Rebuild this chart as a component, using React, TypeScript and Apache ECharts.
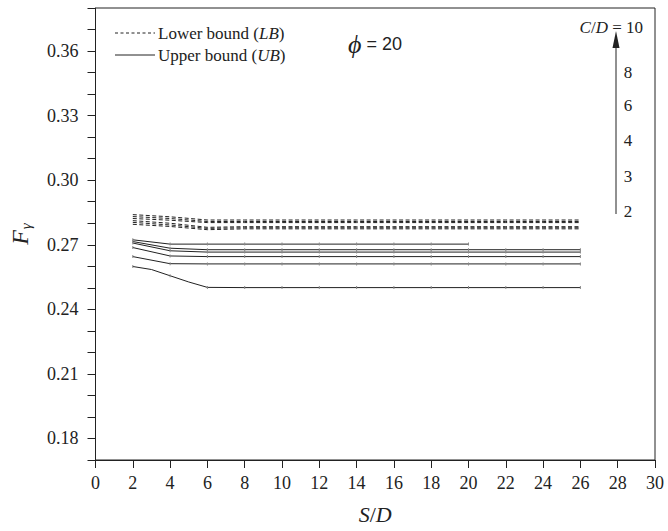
import React, { useEffect, useRef } from "react";
import * as echarts from "echarts";

// S/D positions of the computed points
const sdLong = [2, 4, 6, 8, 10, 12, 14, 16, 18, 20, 22, 24, 26];
const sdShort = [2, 4, 6, 8, 10, 12, 14, 16, 18, 20];
const sdFine = [2, 3, 4, 5, 6, 8, 10, 12, 14, 16, 18, 20, 22, 24, 26];

// Upper bound (UB) values of F_gamma for each C/D
const ub10 = [0.2723, 0.2703, 0.2703, 0.2703, 0.2703, 0.2703, 0.2703, 0.2703, 0.2703, 0.2703];
const ub8 = [0.2715, 0.2684, 0.2677, 0.2677, 0.2677, 0.2677, 0.2677, 0.2677, 0.2677, 0.2677, 0.2677, 0.2677, 0.2677];
const ub6 = [0.2708, 0.2672, 0.2666, 0.2666, 0.2666, 0.2666, 0.2666, 0.2666, 0.2666, 0.2666, 0.2666, 0.2666, 0.2666];
const ub4 = [0.2687, 0.2648, 0.2645, 0.2645, 0.2645, 0.2645, 0.2645, 0.2645, 0.2645, 0.2645, 0.2645, 0.2645, 0.2645];
const ub3 = [0.2645, 0.2612, 0.2611, 0.2611, 0.2611, 0.2611, 0.2611, 0.2611, 0.2611, 0.2611, 0.2611, 0.2611, 0.2611];
const ub2 = [0.2599, 0.2585, 0.2556, 0.2527, 0.2502, 0.2501, 0.2501, 0.2501, 0.2501, 0.2501, 0.2501, 0.2501, 0.2501, 0.2501, 0.2501];

// Lower bound (LB) values of F_gamma for each C/D
const lb10 = [0.284, 0.283, 0.2815, 0.2815, 0.2815, 0.2815, 0.2815, 0.2815, 0.2815, 0.2815, 0.2815, 0.2815, 0.2815];
const lb8 = [0.2831, 0.2822, 0.2808, 0.2808, 0.2808, 0.2808, 0.2808, 0.2808, 0.2808, 0.2808, 0.2808, 0.2808, 0.2808];
const lb6 = [0.2822, 0.2814, 0.2803, 0.2803, 0.2803, 0.2803, 0.2803, 0.2803, 0.2803, 0.2803, 0.2803, 0.2803, 0.2803];
const lb4 = [0.2812, 0.28, 0.2781, 0.2784, 0.2784, 0.2784, 0.2784, 0.2784, 0.2784, 0.2784, 0.2784, 0.2784, 0.2784];
const lb3 = [0.2804, 0.2792, 0.2776, 0.2779, 0.2779, 0.2779, 0.2779, 0.2779, 0.2779, 0.2779, 0.2779, 0.2779, 0.2779];
const lb2 = [0.2795, 0.2785, 0.277, 0.2774, 0.2774, 0.2774, 0.2774, 0.2774, 0.2774, 0.2774, 0.2774, 0.2774, 0.2774];

// C/D labels stacked beside the arrow, bottom to top
const cdLabels = ["2", "3", "4", "6", "8"];

const SERIF = "Liberation Serif";
const INK = "#222";

function pairs(xs: number[], ys: number[]) {
  return xs.map((x, i) => ({
    value: [x, ys[i]],
    symbol: x % 2 === 0 ? "rect" : "none",
  }));
}

function ubSeries(name: string, xs: number[], ys: number[]) {
  return {
    name,
    type: "line",
    data: pairs(xs, ys),
    symbol: "rect",
    symbolSize: [1, 3],
    itemStyle: { color: "#888" },
    lineStyle: { color: INK, width: 1, type: "solid" },
    silent: true,
  };
}

function lbSeries(name: string, xs: number[], ys: number[]) {
  return {
    name,
    type: "line",
    data: xs.map((x, i) => [x, ys[i]]),
    showSymbol: false,
    symbol: "none",
    lineStyle: { color: INK, width: 1, type: [4, 2.5] },
    silent: true,
  };
}

export default function App() {
  const ref = useRef<HTMLDivElement>(null);

  useEffect(() => {
    if (!ref.current) return;
    document.body.style.margin = "0";
    const chart = echarts.init(ref.current, null, { renderer: "svg" });
    const cdYs = [211, 176, 140, 105, 72];

    chart.setOption({
      animation: false,
      backgroundColor: "#fff",
      grid: {
        left: 95,
        right: 13,
        top: 8,
        bottom: 71,
        show: true,
        borderColor: INK,
        borderWidth: 1,
        backgroundColor: "transparent",
      },
      xAxis: {
        type: "value",
        min: 0,
        max: 30,
        interval: 2,
        name: "{i|S}/{i|D}",
        nameLocation: "middle",
        nameGap: 43,
        nameTextStyle: {
          rich: { i: { fontFamily: SERIF, fontStyle: "italic", fontSize: 22, color: INK } },
          fontFamily: SERIF,
          fontSize: 22,
          color: INK,
        },
        axisLine: { show: true, onZero: false, lineStyle: { color: INK, width: 1 } },
        axisTick: { show: true, inside: false, length: 8, lineStyle: { color: INK } },
        axisLabel: { fontFamily: SERIF, fontSize: 18, color: INK, margin: 14 },
        splitLine: { show: false },
      },
      yAxis: {
        type: "value",
        min: 0.17,
        max: 0.38,
        interval: 0.01,
        name: "{i|F}{s|γ}",
        nameLocation: "middle",
        nameRotate: 90,
        nameGap: 62,
        nameTextStyle: {
          rich: {
            i: { fontFamily: SERIF, fontStyle: "italic", fontSize: 24, color: INK },
            s: { fontFamily: SERIF, fontStyle: "italic", fontSize: 15, color: INK, padding: [12, 0, 0, 1] },
          },
        },
        axisLine: { show: true, onZero: false, lineStyle: { color: INK, width: 1 } },
        axisTick: { show: true, inside: false, length: 8, lineStyle: { color: INK } },
        axisLabel: {
          fontFamily: SERIF,
          fontSize: 18,
          color: INK,
          margin: 17,
          showMinLabel: true,
          showMaxLabel: true,
          formatter: (v: number) => {
            const n = Math.round(v * 100);
            return n >= 18 && n <= 36 && (n - 18) % 3 === 0 ? (n / 100).toFixed(2) : "";
          },
        },
        splitLine: { show: false },
      },
      series: [
        ubSeries("UB 10", sdShort, ub10),
        ubSeries("UB 8", sdLong, ub8),
        ubSeries("UB 6", sdLong, ub6),
        ubSeries("UB 4", sdLong, ub4),
        ubSeries("UB 3", sdLong, ub3),
        ubSeries("UB 2", sdFine, ub2),
        lbSeries("LB 10", sdLong, lb10),
        lbSeries("LB 8", sdLong, lb8),
        lbSeries("LB 6", sdLong, lb6),
        lbSeries("LB 4", sdLong, lb4),
        lbSeries("LB 3", sdLong, lb3),
        lbSeries("LB 2", sdLong, lb2),
      ],
      graphic: [
        // legend keys
        {
          type: "line",
          shape: { x1: 115, y1: 33, x2: 155, y2: 33 },
          style: { stroke: INK, lineWidth: 1, lineDash: [3, 2.5] },
        },
        {
          type: "line",
          shape: { x1: 115, y1: 55, x2: 155, y2: 55 },
          style: { stroke: INK, lineWidth: 1 },
        },
        {
          type: "text",
          x: 158,
          y: 33,
          style: {
            text: "Lower bound ({i|LB})",
            fontFamily: SERIF,
            fontSize: 17,
            fill: INK,
            verticalAlign: "middle",
            rich: { i: { fontFamily: SERIF, fontStyle: "italic", fontSize: 17, fill: INK } },
          },
        },
        {
          type: "text",
          x: 158,
          y: 55,
          style: {
            text: "Upper bound ({i|UB})",
            fontFamily: SERIF,
            fontSize: 17,
            fill: INK,
            verticalAlign: "middle",
            rich: { i: { fontFamily: SERIF, fontStyle: "italic", fontSize: 17, fill: INK } },
          },
        },
        // friction angle annotation
        {
          type: "text",
          x: 348,
          y: 44,
          style: {
            text: "{p|ϕ}{n| = 20}",
            verticalAlign: "middle",
            rich: {
              p: { fontFamily: SERIF, fontStyle: "italic", fontSize: 26, fill: INK },
              n: { fontFamily: "Liberation Sans", fontSize: 18, fill: INK },
            },
          },
        },
        // C/D arrow
        {
          type: "line",
          shape: { x1: 616, y1: 214, x2: 616, y2: 46 },
          style: { stroke: INK, lineWidth: 1 },
        },
        {
          type: "polygon",
          shape: { points: [[616, 31], [612.5, 48], [619.5, 48]] },
          style: { fill: INK },
        },
        {
          type: "text",
          x: 643,
          y: 27,
          style: {
            text: "{i|C}/{i|D} = 10",
            fontFamily: SERIF,
            fontSize: 17,
            fill: INK,
            align: "right",
            verticalAlign: "middle",
            rich: { i: { fontFamily: SERIF, fontStyle: "italic", fontSize: 17, fill: INK } },
          },
        },
        ...cdLabels.map((t, i) => ({
          type: "text",
          x: 628,
          y: cdYs[i],
          style: {
            text: t,
            fontFamily: SERIF,
            fontSize: 17,
            fill: INK,
            align: "center",
            verticalAlign: "middle",
          },
        })),
      ],
    });

    return () => chart.dispose();
  }, []);

  return <div ref={ref} style={{ width: 668, height: 531 }} />;
}
